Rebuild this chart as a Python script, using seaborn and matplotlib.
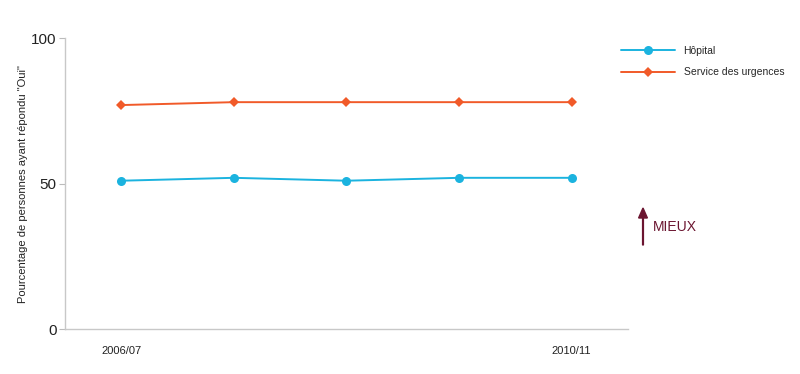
import matplotlib
matplotlib.use("Agg")
import matplotlib.pyplot as plt
import seaborn as sns
import pandas as pd

periods = ["2006/07", "2007/08", "2008/09", "2009/10", "2010/11"]
tick_labels = ["2006/07", "", "", "", "2010/11"]
hopital = [51, 52, 51, 52, 52]
urgences = [77, 78, 78, 78, 78]
series_names = ["Hôpital", "Service des urgences"]

sns.set_theme(style="white")
plt.rcParams['font.family'] = ['Liberation Sans', 'DejaVu Sans']

df = pd.DataFrame({
    "x": list(range(len(periods))) * 2,
    "val": hopital + urgences,
    "serie": [series_names[0]] * len(periods) + [series_names[1]] * len(periods),
})

fig = plt.figure(figsize=(8, 3.74), dpi=100)
ax = fig.add_axes([0.081, 0.120, 0.704, 0.778])

colors = {"Hôpital": "#1bb3df", "Service des urgences": "#f15a29"}
markers = {"Hôpital": "o", "Service des urgences": "D"}
sizes = {"Hôpital": 6.5, "Service des urgences": 5}
for name in series_names:
    sub = df[df.serie == name]
    sns.lineplot(data=sub, x="x", y="val", ax=ax, color=colors[name],
                 marker=markers[name], markersize=sizes[name],
                 markeredgewidth=0, linewidth=1.4, label=name)

ax.set_xlim(-0.5, 4.5)
ax.set_ylim(0, 100)
ax.set_yticks([0, 50, 100])
ax.set_yticklabels(["0", "50", "100"], fontsize=11, color="#222222")
ax.set_xticks(range(len(periods)))
ax.set_xticklabels(tick_labels, fontsize=8, color="#222222")
ax.tick_params(axis="x", length=0, pad=12)
ax.tick_params(axis="y", length=4, color="#bbbbbb", width=0.8, pad=2, left=True)
ax.set_xlabel("")
ax.set_ylabel('Pourcentage de personnes ayant répondu "Oui"', fontsize=8, color="#222222", labelpad=2)
for s in ["top", "right"]:
    ax.spines[s].set_visible(False)
for s in ["left", "bottom"]:
    ax.spines[s].set_color("#c8c8c8")
    ax.spines[s].set_linewidth(1.0)

leg = ax.legend(loc="upper left", bbox_to_anchor=(0.764, 0.902), bbox_transform=fig.transFigure,
                frameon=False, fontsize=7.5, handlelength=5.2, labelspacing=1.1, handletextpad=0.85)

fig.patches.append(matplotlib.patches.FancyArrow(
    643 / 800, 1 - 245 / 374, 0, 37 / 374, width=0.0010, head_width=0.011,
    head_length=10 / 374, length_includes_head=True, color="#6b1530",
    transform=fig.transFigure, figure=fig))
fig.text(653 / 800, 1 - 227 / 374, "MIEUX", fontsize=10, color="#6b1530", va="center", ha="left")

fig.savefig("out.png", dpi=100)
